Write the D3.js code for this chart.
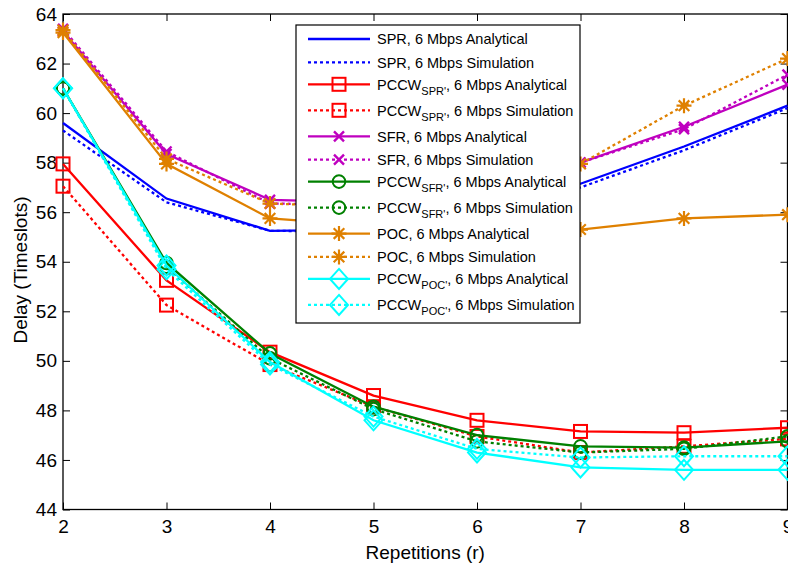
<!DOCTYPE html>
<html><head><meta charset="utf-8">
<script src="https://cdn.jsdelivr.net/npm/d3@7"></script>
<style>
html,body{margin:0;padding:0;background:#fff;}
svg{display:block;font-family:"Liberation Sans",Arial,sans-serif;}
</style></head>
<body>
<svg id="chart" width="788" height="569"></svg>
<script>
const repetitions = [2, 3, 4, 5, 6, 7, 8, 9];
const xTicks = [2, 3, 4, 5, 6, 7, 8, 9];
const yTicks = [44, 46, 48, 50, 52, 54, 56, 58, 60, 62, 64];

const sprAnalytical      = [59.6, 56.55, 55.25, 55.3, 56.1, 57.15, 58.65, 60.3];
const sprSimulation      = [59.3, 56.4, 55.25, 55.2, 56.0, 57.0, 58.5, 60.2];
const pccwSprAnalytical  = [57.95, 53.25, 50.35, 48.6, 47.6, 47.15, 47.1, 47.3];
const pccwSprSimulation  = [57.05, 52.25, 49.85, 48.15, 46.95, 46.3, 46.55, 46.85];
const sfrAnalytical      = [63.3, 58.35, 56.5, 56.4, 57.1, 58.0, 59.45, 61.15];
const sfrSimulation      = [63.4, 58.45, 56.35, 56.3, 57.0, 58.0, 59.35, 61.55];
const pccwSfrAnalytical  = [61.0, 53.95, 50.3, 48.15, 47.0, 46.55, 46.5, 46.75];
const pccwSfrSimulation  = [61.0, 53.8, 50.1, 48.05, 46.75, 46.3, 46.45, 46.95];
const pocAnalytical      = [63.25, 57.95, 55.75, 55.45, 55.3, 55.3, 55.75, 55.9];
const pocSimulation      = [63.35, 58.15, 56.35, 56.2, 56.9, 57.95, 60.3, 62.2];
const pccwPocAnalytical  = [61.0, 53.85, 49.95, 47.6, 46.3, 45.7, 45.6, 45.6];
const pccwPocSimulation  = [61.0, 53.7, 49.85, 47.75, 46.45, 46.1, 46.15, 46.15];

const seriesNames = [
  {main:"SPR", sub:null, kind:"Analytical"},
  {main:"SPR", sub:null, kind:"Simulation"},
  {main:"PCCW", sub:"SPR'", kind:"Analytical"},
  {main:"PCCW", sub:"SPR'", kind:"Simulation"},
  {main:"SFR", sub:null, kind:"Analytical"},
  {main:"SFR", sub:null, kind:"Simulation"},
  {main:"PCCW", sub:"SFR'", kind:"Analytical"},
  {main:"PCCW", sub:"SFR'", kind:"Simulation"},
  {main:"POC", sub:null, kind:"Analytical"},
  {main:"POC", sub:null, kind:"Simulation"},
  {main:"PCCW", sub:"POC'", kind:"Analytical"},
  {main:"PCCW", sub:"POC'", kind:"Simulation"}
];
const seriesValues = [sprAnalytical, sprSimulation, pccwSprAnalytical, pccwSprSimulation,
  sfrAnalytical, sfrSimulation, pccwSfrAnalytical, pccwSfrSimulation,
  pocAnalytical, pocSimulation, pccwPocAnalytical, pccwPocSimulation];
const seriesColors = ["#0000ff","#0000ff","#ff0000","#ff0000","#bf00bf","#bf00bf",
  "#008000","#008000","#df8000","#df8000","#00ffff","#00ffff"];
const seriesMarkers = [null,null,"square","square","x","x","circle","circle","star","star","diamond","diamond"];

const xLabel = "Repetitions (r)";
const yLabel = "Delay (Timeslots)";

const svg = d3.select("#chart");
const pL = 63, pR = 787.5, pT = 14, pB = 509.5;
const x = d3.scaleLinear().domain([2, 9]).range([pL, pR]);
const y = d3.scaleLinear().domain([44, 64]).range([pB, pT]);

const tickLen = 7;
const axisFont = 19;
const gx = svg.append("g").attr("transform", `translate(0,${pB})`)
  .call(d3.axisBottom(x).tickValues(xTicks).tickFormat(d3.format("d")).tickSize(-tickLen).tickPadding(10));
const gxTop = svg.append("g").attr("transform", `translate(0,${pT})`)
  .call(d3.axisTop(x).tickValues(xTicks).tickFormat("").tickSize(-tickLen));
const gy = svg.append("g").attr("transform", `translate(${pL},0)`)
  .call(d3.axisLeft(y).tickValues(yTicks).tickFormat(d3.format("d")).tickSize(-tickLen).tickPadding(6));
const gyR = svg.append("g").attr("transform", `translate(${pR},0)`)
  .call(d3.axisRight(y).tickValues(yTicks).tickFormat("").tickSize(-tickLen));
[gx,gxTop,gy,gyR].forEach(g=>{
  g.select(".domain").remove();
  g.selectAll(".tick line").attr("stroke","#000").attr("stroke-width",1);
  g.selectAll(".tick text").attr("font-size",axisFont).attr("fill","#000")
    .attr("font-family",'"Liberation Sans",Arial,sans-serif');
});
svg.append("rect").attr("x",pL).attr("y",pT).attr("width",pR-pL).attr("height",pB-pT)
  .attr("fill","none").attr("stroke","#000").attr("stroke-width",1.3);

svg.append("text").attr("x",(pL+pR)/2).attr("y",559).attr("text-anchor","middle")
  .attr("font-size",axisFont).text(xLabel);
svg.append("text").attr("transform","translate(27,270) rotate(-90)").attr("text-anchor","middle")
  .attr("font-size",axisFont).text(yLabel);

function drawMarker(g, type, cx, cy, color){
  const m = g.append("g").attr("transform",`translate(${cx},${cy})`)
    .attr("fill","none").attr("stroke",color).attr("stroke-width",2);
  if(type==="square") m.append("rect").attr("x",-6.5).attr("y",-6.5).attr("width",13).attr("height",13);
  else if(type==="circle") m.append("circle").attr("r",6.3);
  else if(type==="diamond") m.append("path").attr("d","M0,-10L9,0L0,10L-9,0Z");
  else if(type==="x") m.append("path").attr("d","M-5,-5L5,5M-5,5L5,-5").attr("stroke-width",2.4);
  else if(type==="star") m.append("path").attr("d","M-7.5,0L7.5,0M0,-7.5L0,7.5M-5.3,-5.3L5.3,5.3M-5.3,5.3L5.3,-5.3").attr("stroke-width",2.2);
}

const line = d3.line().x(d=>x(d[0])).y(d=>y(d[1]));
const plot = svg.append("g");
seriesValues.forEach((vals,i)=>{
  const pts = repetitions.map((r,j)=>[r, vals[j]]);
  const dotted = seriesNames[i].kind==="Simulation";
  plot.append("path").datum(pts).attr("d",line).attr("fill","none")
    .attr("stroke",seriesColors[i]).attr("stroke-width",2.3)
    .attr("stroke-dasharray", dotted ? "3,3" : null);
  if(seriesMarkers[i]) pts.forEach(p=>drawMarker(plot, seriesMarkers[i], x(p[0]), y(p[1]), seriesColors[i]));
});

const lg = svg.append("g");
lg.append("rect").attr("x",296).attr("y",25).attr("width",284).attr("height",298)
  .attr("fill","#fff").attr("stroke","#000").attr("stroke-width",1.2);
let ly = 39;
seriesNames.forEach((s,i)=>{
  if(i>0){
    const prevSub = !!seriesNames[i-1].sub, curSub = !!s.sub;
    ly += prevSub ? 26 : (curSub ? 22 : 23.3);
  }
  const dotted = s.kind==="Simulation";
  lg.append("line").attr("x1",308).attr("x2",370).attr("y1",ly).attr("y2",ly)
    .attr("stroke",seriesColors[i]).attr("stroke-width",2.3)
    .attr("stroke-dasharray", dotted ? "3,3" : null);
  if(seriesMarkers[i]) drawMarker(lg, seriesMarkers[i], 339, ly, seriesColors[i]);
  const t = lg.append("text").attr("x",377).attr("y",ly+5.2).attr("font-size",14.5).attr("fill","#000");
  t.append("tspan").text(s.main);
  if(s.sub){
    t.append("tspan").attr("dy",5).attr("font-size",11).text(s.sub);
    t.append("tspan").attr("dy",-5).text(", 6 Mbps " + s.kind);
  } else {
    t.append("tspan").text(", 6 Mbps " + s.kind);
  }
});
</script>
</body></html>
